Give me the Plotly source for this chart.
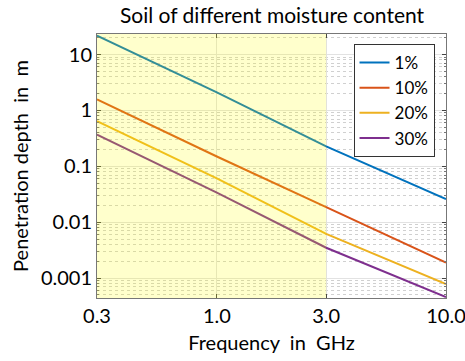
import plotly.graph_objects as go

freq = [0.3, 1.0, 3.0, 10.0]
depth_1 = [21.8, 2.1, 0.227, 0.026]
depth_10 = [1.57, 0.15, 0.0186, 0.0019]
depth_20 = [0.64, 0.061, 0.0062, 0.00078]
depth_30 = [0.37, 0.034, 0.0035, 0.00046]
series_names = ["1%", "10%", "20%", "30%"]
colors = ["#0072BD", "#D95319", "#EDB120", "#7E2F8E"]

x_ticks = [0.3, 1.0, 3.0, 10.0]
x_ticktext = ["0.3", "1.0", "3.0", "10.0"]
y_ticks = [0.001, 0.01, 0.1, 1, 10]
y_ticktext = ["0.001", "0.01", "0.1", "1", "10"]
shade_range = [0.3, 3.0]

FONT = "Lato"

fig = go.Figure()
for name, ys, c in zip(series_names, [depth_1, depth_10, depth_20, depth_30], colors):
    fig.add_trace(go.Scatter(x=freq, y=ys, mode="lines", name=name,
                             line=dict(color=c, width=2)))

minor_y = [m * 10 ** e for e in range(-4, 2) for m in range(2, 10)]

fig.add_shape(type="rect", xref="x", yref="paper",
              x0=shade_range[0], x1=shade_range[1], y0=0, y1=1,
              fillcolor="rgb(255,255,0)", opacity=0.2, layer="above",
              line=dict(width=0))

fig.update_layout(
    width=465, height=361,
    margin=dict(l=97, r=19, t=34, b=63, autoexpand=False),
    paper_bgcolor="white", plot_bgcolor="white",
    font=dict(family=FONT, color="black"),
    title=dict(text="Soil of different moisture content", x=0.585, xanchor="center",
               y=0.958, yanchor="middle", font=dict(size=21, family=FONT)),
    showlegend=True,
    legend=dict(x=0.735, y=0.962, xanchor="left", yanchor="top",
                bgcolor="white", bordercolor="#333333", borderwidth=1,
                font=dict(size=17, family=FONT), tracegroupgap=0,
                itemwidth=30),
)

fig.update_xaxes(
    type="log", range=[-0.5229, 1.0], automargin=False,
    tickvals=x_ticks, ticktext=x_ticktext,
    tickfont=dict(size=20, family=FONT),
    ticklabeloverflow="allow",
    ticks="inside", ticklen=4, tickcolor="#444",
    showline=True, linecolor="#777", linewidth=1, mirror="ticks",
    showgrid=True, gridcolor="#e2e2e2", gridwidth=1,
    zeroline=False,
    title=dict(text="Frequency\u00a0 in\u00a0 GHz", font=dict(size=20, family=FONT), standoff=9),
)
fig.update_yaxes(
    type="log", range=[-3.355, 1.367], automargin=False,
    tickvals=y_ticks, ticktext=y_ticktext,
    tickfont=dict(size=20, family=FONT),
    ticks="inside", ticklen=4, tickcolor="#444",
    showline=True, linecolor="#777", linewidth=1, mirror="ticks",
    showgrid=True, gridcolor="#e2e2e2", gridwidth=1,
    zeroline=False,
    minor=dict(tickvals=minor_y, ticks="inside", ticklen=2, tickcolor="#777",
               showgrid=True, gridcolor="#d0d0d0", griddash="dot", gridwidth=1),
    title=dict(text="Penetration depth\u00a0 in\u00a0 m", font=dict(size=20, family=FONT), standoff=6),
)

fig.write_html("out.html")
